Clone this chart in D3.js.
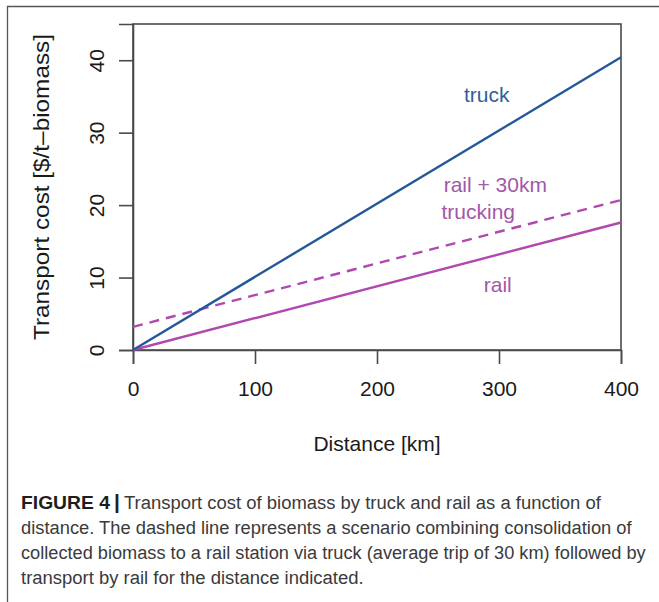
<!DOCTYPE html>
<html>
<head>
<meta charset="utf-8">
<script src="https://cdn.jsdelivr.net/npm/d3@7"></script>
<style>
  html, body { margin: 0; padding: 0; background: #fff; }
  svg { display: block; }
  text { font-family: "Liberation Sans", Arial, Helvetica, sans-serif; }
</style>
</head>
<body>
<svg id="chart" width="659" height="602"></svg>
<script>
// ---- data ----
const distance = [0, 400];
const truck = [0, 40.4];
const rail = [0, 17.6];
const railTrucking = [3.2, 20.7];
const xTicks = [0, 100, 200, 300, 400];
const yTicks = [0, 10, 20, 30, 40];
const seriesLabels = ["truck", "rail + 30km", "trucking", "rail"];
const captionLines = [
  "Transport cost of biomass by truck and rail as a function of",
  "distance. The dashed line represents a scenario combining consolidation of",
  "collected biomass to a rail station via truck (average trip of 30 km) followed by",
  "transport by rail for the distance indicated."
];

const svg = d3.select("#chart");
const W = 659, H = 602;
const box = { left: 133, right: 621, top: 24, bottom: 350 };

const x = d3.scaleLinear().domain([0, 400]).range([box.left, box.right]);
const y = d3.scaleLinear().domain([0, 45]).range([box.bottom, box.top]);

const axisCol = "#4a4a4a";
const blue = "#25589b";
const magenta = "#b048b0";
const magentaText = "#a357a8";

// outer frame (left and top)
svg.append("path")
  .attr("d", `M7.5,${H} L7.5,6.5 L${W},6.5`)
  .attr("fill", "none").attr("stroke", "#555").attr("stroke-width", 1.3);

// plot box
svg.append("rect")
  .attr("x", box.left).attr("y", box.top)
  .attr("width", box.right - box.left).attr("height", box.bottom - box.top)
  .attr("fill", "none").attr("stroke", axisCol).attr("stroke-width", 1.6);

// x axis
const xAxis = d3.axisBottom(x).tickValues(xTicks).tickSize(14).tickPadding(17).tickFormat(d3.format("d"));
const gx = svg.append("g").attr("transform", `translate(0,${box.bottom})`).call(xAxis);
gx.select(".domain").attr("stroke", axisCol).attr("stroke-width", 1.6);
gx.selectAll(".tick line").attr("stroke", axisCol).attr("stroke-width", 1.6);
gx.selectAll(".tick text").attr("font-size", 21).attr("fill", "#1a1a1a")
  .attr("font-family", "Liberation Sans, Arial, sans-serif");

// y axis
const yAxis = d3.axisLeft(y).tickValues(yTicks).tickSize(14).tickPadding(0).tickFormat(d3.format("d"));
const gy = svg.append("g").attr("transform", `translate(${box.left},0)`).call(yAxis);
gy.select(".domain").attr("stroke", axisCol).attr("stroke-width", 1.6);
gy.selectAll(".tick line").attr("stroke", axisCol).attr("stroke-width", 1.6);
gy.selectAll(".tick text")
  .attr("font-size", 21).attr("fill", "#1a1a1a")
  .attr("font-family", "Liberation Sans, Arial, sans-serif")
  .attr("x", null).attr("dy", null)
  .attr("text-anchor", "middle")
  .attr("dominant-baseline", "central")
  .attr("transform", `translate(-37,0) rotate(-90)`);

// axis titles
svg.append("text")
  .attr("x", (box.left + box.right) / 2).attr("y", 451)
  .attr("text-anchor", "middle").attr("font-size", 21).attr("fill", "#1a1a1a")
  .text("Distance [km]");

svg.append("text")
  .attr("transform", `translate(49,${(box.top + box.bottom) / 2}) rotate(-90)`)
  .attr("text-anchor", "middle").attr("font-size", 22).attr("fill", "#1a1a1a")
  .attr("textLength", 306).attr("lengthAdjust", "spacingAndGlyphs")
  .text("Transport cost [$/t\u2013biomass]");

// lines
const line = d3.line().x(d => x(d[0])).y(d => y(d[1]));
const g = svg.append("g");
g.append("path").datum(d3.zip(distance, rail)).attr("d", line)
  .attr("fill", "none").attr("stroke", magenta).attr("stroke-width", 2.4);
g.append("path").datum(d3.zip(distance, railTrucking)).attr("d", line)
  .attr("fill", "none").attr("stroke", magenta).attr("stroke-width", 2.4)
  .attr("stroke-dasharray", "10,7");
g.append("path").datum(d3.zip(distance, truck)).attr("d", line)
  .attr("fill", "none").attr("stroke", blue).attr("stroke-width", 2.4);

// series labels (positioned in data space)
const labelPos = [
  { t: seriesLabels[0], d: 290, v: 35.2, c: "#2f5f9c" },
  { t: seriesLabels[1], d: 297, v: 22.8, c: magentaText },
  { t: seriesLabels[2], d: 283, v: 19.1, c: magentaText },
  { t: seriesLabels[3], d: 299, v: 9.0, c: magentaText }
];
svg.selectAll("text.lab").data(labelPos).join("text")
  .attr("class", "lab")
  .attr("x", d => x(d.d)).attr("y", d => y(d.v))
  .attr("text-anchor", "middle").attr("dominant-baseline", "central")
  .attr("font-size", 21).attr("fill", d => d.c)
  .text(d => d.t);

// caption (horizontally condensed via scale so that each line fits its width)
function fitText(sel, x0, yb, target) {
  const w = sel.node().getComputedTextLength();
  const s = target / w;
  sel.attr("x", 0).attr("y", 0)
     .attr("transform", `translate(${x0},${yb}) scale(${s},1)`);
}
const capX = 21;
const capY = [509, 534, 559, 584];
const capEnd = [601, 632, 646, 364];
const c0 = svg.append("text")
  .attr("font-size", 19).attr("font-weight", "bold").attr("fill", "#1e1e1e")
  .text("FIGURE 4");
fitText(c0, capX, capY[0], 89);
svg.append("text").attr("x", 114).attr("y", capY[0])
  .attr("font-size", 21).attr("fill", "#1e1e1e").attr("font-weight", "bold")
  .text("|");
captionLines.forEach((t, i) => {
  const sx = i === 0 ? 124 : capX;
  const tt = svg.append("text")
    .attr("font-size", 19).attr("fill", "#3a3a3a")
    .text(t);
  fitText(tt, sx, capY[i], capEnd[i] - sx);
});
</script>
</body>
</html>
